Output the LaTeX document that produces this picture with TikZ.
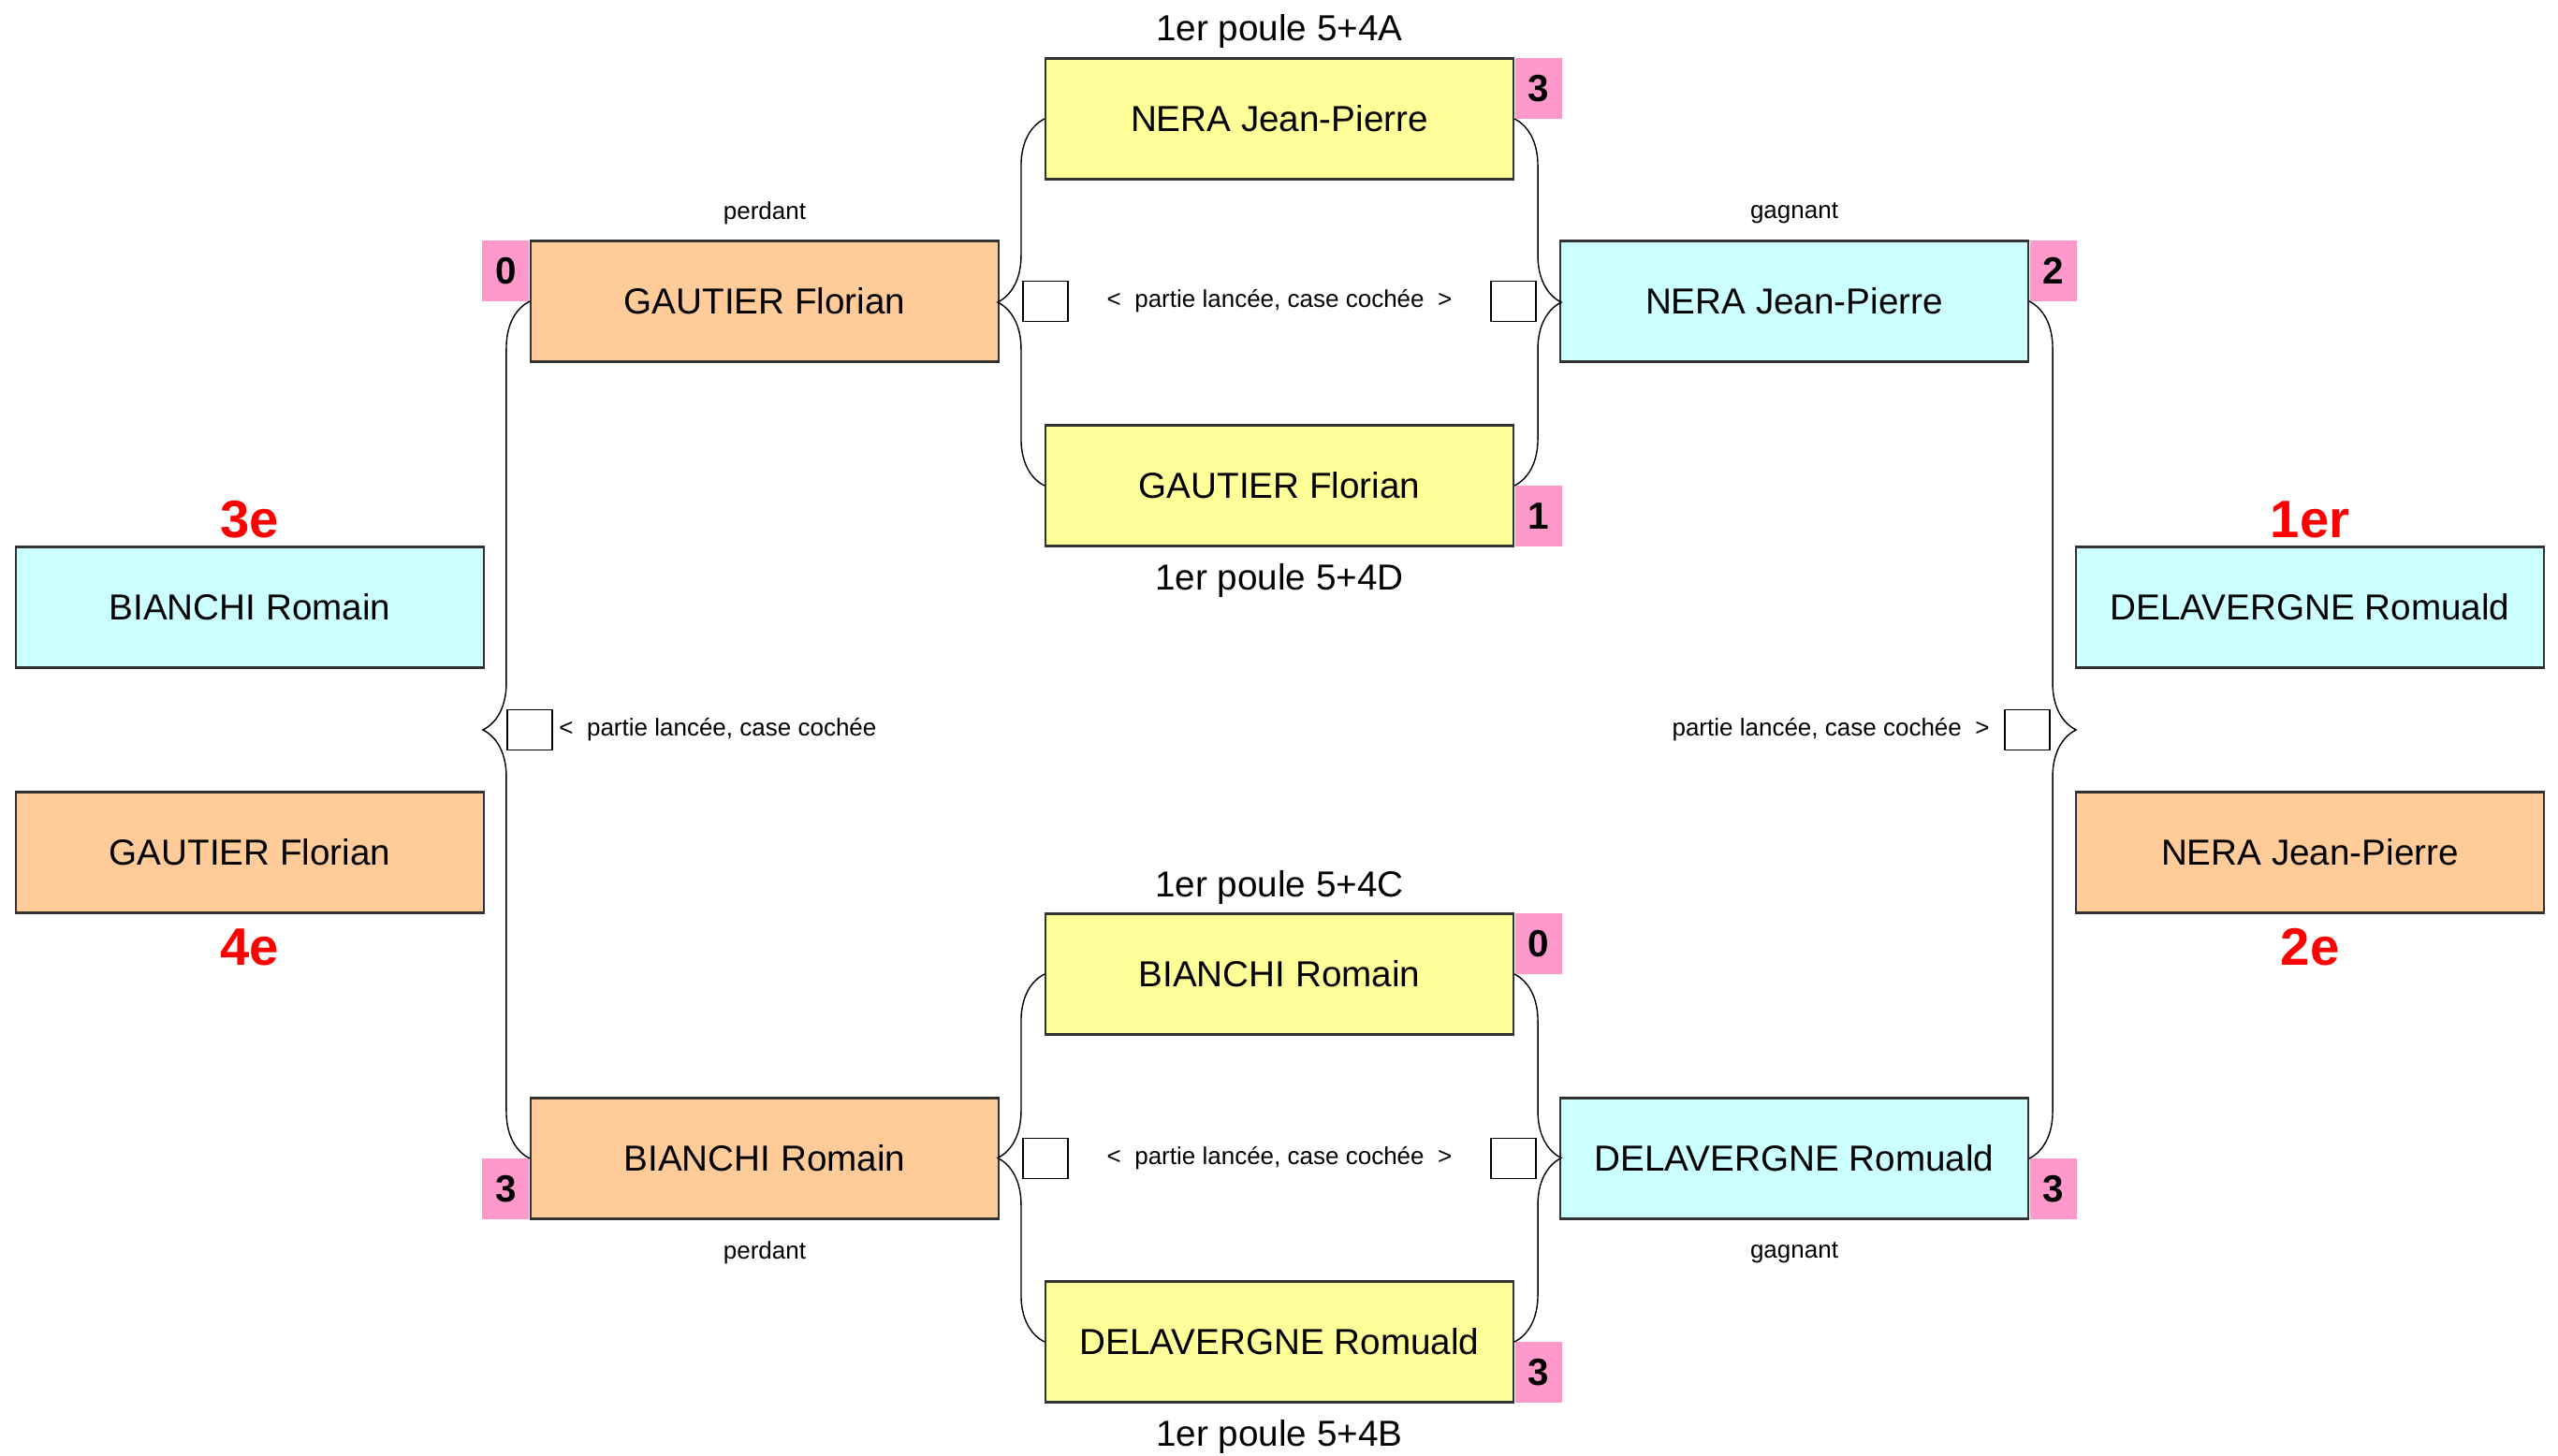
\documentclass[tikz,border=0pt]{standalone}
\usepackage{fontspec}
\setmainfont{Liberation Sans}
\usepackage{xcolor}
\usetikzlibrary{positioning,decorations.pathreplacing}

\definecolor{pjaune}{HTML}{FFFF99}
\definecolor{porange}{HTML}{FFCC99}
\definecolor{pcyan}{HTML}{CCFFFF}
\definecolor{prose}{HTML}{FF99CC}

\begin{document}
\begin{tikzpicture}[
  joueur/.style={draw=black!80, line width=0.6pt, minimum width=5cm, minimum height=1.29cm, inner sep=0pt, font=\fontsize{11}{13}\selectfont},
  score/.style={fill=prose, minimum width=0.5cm, minimum height=0.645cm, inner sep=0pt, font=\bfseries\fontsize{11.5}{13}\selectfont},
  caseb/.style={draw, thin, fill=white, minimum width=0.48cm, minimum height=0.43cm, inner sep=0pt},
  petit/.style={font=\fontsize{7.4}{9}\selectfont},
  titre/.style={font=\fontsize{11}{13}\selectfont},
  rang/.style={text=red, font=\bfseries\fontsize{16}{18}\selectfont},
  accolade/.style={decorate, decoration={brace, amplitude=0.5cm}, thin}
]
\useasboundingbox (0,0) rectangle (27.33,-15.55);

% quarts de finale
\node[joueur, fill=pjaune] (qa) at (13.67,-1.27) {NERA Jean-Pierre};
\node[joueur, fill=pjaune] (qd) at (13.67,-5.19) {GAUTIER Florian};
\node[joueur, fill=pjaune] (qc) at (13.67,-10.41) {BIANCHI Romain};
\node[joueur, fill=pjaune] (qb) at (13.67,-14.34) {DELAVERGNE Romuald};
\node[score, anchor=north west] (sqa) at (qa.north east) {3};
\node[score, anchor=south west] (sqd) at (qd.south east) {1};
\node[score, anchor=north west] (sqc) at (qc.north east) {0};
\node[score, anchor=south west] (sqb) at (qb.south east) {3};
\node[titre] (tqa) at (13.67,-0.33) {1er poule 5+4A};
\node[titre] (tqd) at (13.67,-6.20) {1er poule 5+4D};
\node[titre] (tqc) at (13.67,-9.48) {1er poule 5+4C};
\node[titre] (tqb) at (13.67,-15.35) {1er poule 5+4B};

% demi-finales
\node[joueur, fill=porange] (dp1) at (8.17,-3.22) {GAUTIER Florian};
\node[joueur, fill=porange] (dp2) at (8.17,-12.38) {BIANCHI Romain};
\node[joueur, fill=pcyan] (dg1) at (19.17,-3.22) {NERA Jean-Pierre};
\node[joueur, fill=pcyan] (dg2) at (19.17,-12.38) {DELAVERGNE Romuald};
\node[score, anchor=north east] (sdp1) at (dp1.north west) {0};
\node[score, anchor=south east] (sdp2) at (dp2.south west) {3};
\node[score, anchor=north west] (sdg1) at (dg1.north east) {2};
\node[score, anchor=south west] (sdg2) at (dg2.south east) {3};
\node[petit] (ldp1) at (8.17,-2.28) {perdant};
\node[petit] (ldg1) at (19.17,-2.28) {gagnant};
\node[petit] (ldp2) at (8.17,-13.39) {perdant};
\node[petit] (ldg2) at (19.17,-13.39) {gagnant};

% finales
\node[joueur, fill=pcyan] (f3) at (2.67,-6.49) {BIANCHI Romain};
\node[joueur, fill=porange] (f4) at (2.67,-9.11) {GAUTIER Florian};
\node[joueur, fill=pcyan] (f1) at (24.68,-6.49) {DELAVERGNE Romuald};
\node[joueur, fill=porange] (f2) at (24.68,-9.11) {NERA Jean-Pierre};
\node[rang] (r3) at (2.67,-5.55) {3e};
\node[rang] (r4) at (2.67,-10.12) {4e};
\node[rang] (r1) at (24.68,-5.55) {1er};
\node[rang] (r2) at (24.68,-10.12) {2e};

% accolades
\draw[accolade] (qd.west) -- (qa.west);
\draw[accolade] (qa.east) -- (qd.east);
\draw[accolade] (qb.west) -- (qc.west);
\draw[accolade] (qc.east) -- (qb.east);
\draw[accolade] (dp2.west) -- (dp1.west);
\draw[accolade] (dg1.east) -- (dg2.east);

% cases a cocher
\node[caseb] (c1) at (11.17,-3.22) {};
\node[caseb] (c2) at (16.17,-3.22) {};
\node[caseb] (c3) at (11.17,-12.38) {};
\node[caseb] (c4) at (16.17,-12.38) {};
\node[caseb] (c5) at (5.66,-7.80) {};
\node[caseb] (c6) at (21.66,-7.80) {};
\node[petit] (p1) at (13.67,-3.22) {<\ \ partie lancée, case cochée\ \ >};
\node[petit] (p2) at (13.67,-12.38) {<\ \ partie lancée, case cochée\ \ >};
\node[petit, anchor=west] (p3) at (5.85,-7.80) {<\ \ partie lancée, case cochée};
\node[petit, anchor=east] (p4) at (21.38,-7.80) {partie lancée, case cochée\ \ >};

\end{tikzpicture}
\end{document}
